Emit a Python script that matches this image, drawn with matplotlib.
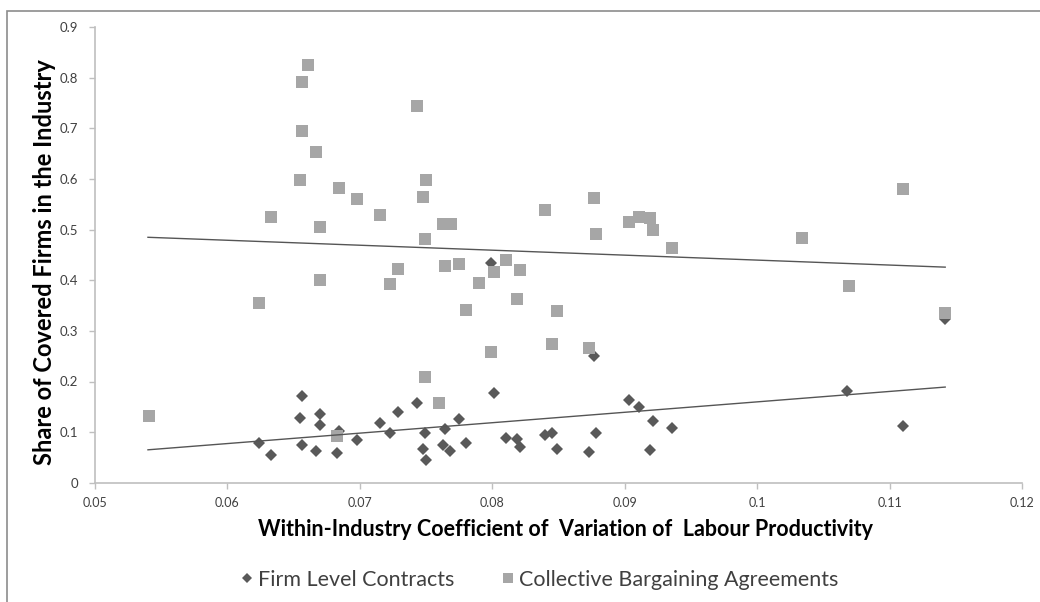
import matplotlib
matplotlib.use("Agg")
import matplotlib.pyplot as plt
from matplotlib.lines import Line2D
from matplotlib.patches import Rectangle

# Collective Bargaining Agreements (squares)
cba_x = [0.0541, 0.0624, 0.0633, 0.0655, 0.0656, 0.0656, 0.0661, 0.0667, 0.0670, 0.0670,
         0.0683, 0.0684, 0.0698, 0.0715, 0.0723, 0.0729, 0.0743, 0.0748, 0.0749, 0.0749,
         0.0750, 0.0760, 0.0763, 0.0764, 0.0769, 0.0775, 0.0780, 0.0790, 0.0799, 0.0801,
         0.0810, 0.0819, 0.0821, 0.0840, 0.0845, 0.0849, 0.0873, 0.0877, 0.0878, 0.0903,
         0.0911, 0.0919, 0.0921, 0.0936, 0.1034, 0.1069, 0.1110, 0.1142]
cba_y = [0.131, 0.356, 0.526, 0.599, 0.791, 0.695, 0.825, 0.654, 0.506, 0.400,
         0.093, 0.582, 0.561, 0.529, 0.393, 0.423, 0.744, 0.564, 0.482, 0.209,
         0.599, 0.157, 0.511, 0.428, 0.511, 0.433, 0.341, 0.395, 0.258, 0.416,
         0.441, 0.364, 0.420, 0.538, 0.274, 0.339, 0.266, 0.563, 0.491, 0.516,
         0.526, 0.523, 0.499, 0.463, 0.484, 0.388, 0.580, 0.336]

# Firm Level Contracts (diamonds)
flc_x = [0.0541, 0.0624, 0.0633, 0.0655, 0.0656, 0.0656, 0.0667, 0.0670, 0.0670, 0.0683,
         0.0684, 0.0698, 0.0715, 0.0723, 0.0729, 0.0743, 0.0748, 0.0749, 0.0750, 0.0763,
         0.0764, 0.0768, 0.0775, 0.0780, 0.0799, 0.0801, 0.0810, 0.0819, 0.0821, 0.0840,
         0.0845, 0.0849, 0.0873, 0.0877, 0.0878, 0.0903, 0.0911, 0.0919, 0.0921, 0.0936,
         0.1068, 0.1110, 0.1142]
flc_y = [0.131, 0.078, 0.055, 0.127, 0.171, 0.075, 0.063, 0.136, 0.115, 0.059,
         0.102, 0.084, 0.117, 0.098, 0.140, 0.158, 0.067, 0.098, 0.045, 0.075,
         0.107, 0.063, 0.125, 0.078, 0.434, 0.177, 0.089, 0.086, 0.070, 0.095,
         0.099, 0.066, 0.061, 0.251, 0.099, 0.163, 0.150, 0.065, 0.121, 0.108,
         0.182, 0.113, 0.323]

# Linear trend lines (endpoints)
trend_x = [0.054, 0.1142]
cba_trend = [0.485, 0.426]
flc_trend = [0.065, 0.189]

x_ticks = [0.05, 0.06, 0.07, 0.08, 0.09, 0.1, 0.11, 0.12]
x_ticklabels = ["0.05", "0.06", "0.07", "0.08", "0.09", "0.1", "0.11", "0.12"]
y_ticks = [0, 0.1, 0.2, 0.3, 0.4, 0.5, 0.6, 0.7, 0.8, 0.9]
y_ticklabels = ["0", "0.1", "0.2", "0.3", "0.4", "0.5", "0.6", "0.7", "0.8", "0.9"]

series_names = ["Firm Level Contracts", "Collective Bargaining Agreements"]

DARK = "#595959"
LIGHT = "#a6a6a6"
AXC = "#bfbfbf"
TXT = "#404040"
FONT = ["Lato", "DejaVu Sans"]

fig = plt.figure(figsize=(10.4, 6.02), dpi=100)
ax = fig.add_axes([95/1040, (602-482.7)/602, (1022-95)/1040, (482.7-27.3)/602])

ax.plot(flc_x, flc_y, linestyle="none", marker="D", markersize=6.1,
        color=DARK, markeredgewidth=0, zorder=3)
ax.plot(cba_x, cba_y, linestyle="none", marker="s", markersize=8.6,
        color=LIGHT, markeredgewidth=0, zorder=4)
ax.plot(trend_x, cba_trend, color="#555555", linewidth=1.0, zorder=5)
ax.plot(trend_x, flc_trend, color="#555555", linewidth=1.0, zorder=5)

ax.set_xlim(0.05, 0.12)
ax.set_ylim(0, 0.9)
ax.set_xticks(x_ticks)
ax.set_xticklabels(x_ticklabels, family=FONT, fontsize=9, color=TXT)
ax.set_yticks(y_ticks)
ax.set_yticklabels(y_ticklabels, family=FONT, fontsize=9.5, color=TXT)
ax.tick_params(axis="both", direction="out", length=4, width=1, color=AXC)
ax.tick_params(axis="x", pad=6)
ax.tick_params(axis="y", pad=8)
for s in ["top", "right"]:
    ax.spines[s].set_visible(False)
for s in ["left", "bottom"]:
    ax.spines[s].set_color(AXC)
    ax.spines[s].set_linewidth(1.2)

fig.text(45/1040, (602 - 262)/602, "Share of Covered Firms in the Industry",
         family=FONT, fontweight="bold", fontsize=17.0, color="black",
         rotation=90, ha="center", va="center")
fig.text(566/1040, (602 - 530)/602,
         "Within-Industry Coefficient of  Variation of  Labour Productivity",
         family=FONT, fontweight="bold", fontsize=15.5,
         color="black", ha="center", va="center")

handles = [Line2D([], [], linestyle="none", marker="D", markersize=5, color=DARK,
                  markeredgewidth=0),
           Line2D([], [], linestyle="none", marker="s", markersize=6.5, color=LIGHT,
                  markeredgewidth=0)]
leg = fig.legend(handles, series_names, loc="center", ncol=2,
                 bbox_to_anchor=(540/1040, (602-580)/602), frameon=False,
                 prop={"family": FONT, "size": 15.5},
                 handlelength=0.5, handletextpad=0.3, columnspacing=2.2)
for t in leg.get_texts():
    t.set_color(TXT)

fig.patches.append(Rectangle((7/1040, -0.05), 1.1, (602-10.7)/602 + 0.05,
                             transform=fig.transFigure, fill=False,
                             edgecolor="#8c8c8c", linewidth=1.2))

fig.savefig("out.png", dpi=100)
